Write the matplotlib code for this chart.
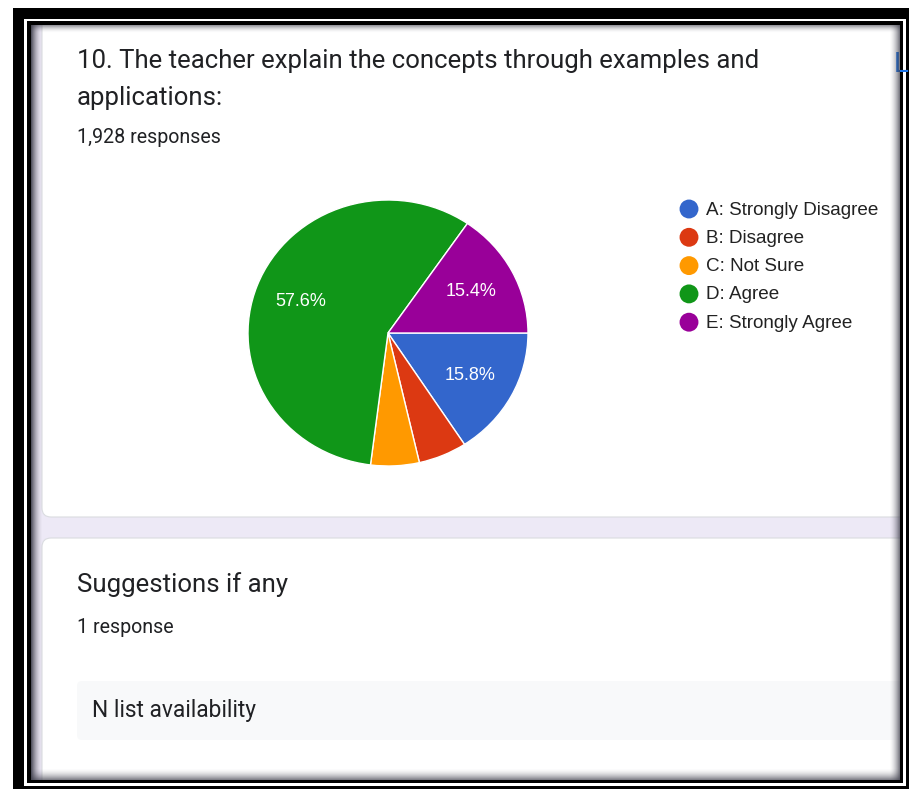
import numpy as np
import matplotlib
matplotlib.use("Agg")
import matplotlib.pyplot as plt
from matplotlib.patches import Rectangle, FancyBboxPatch

# data
labels = ["A: Strongly Disagree", "B: Disagree", "C: Not Sure", "D: Agree", "E: Strongly Agree"]
shares = [15.8, 5.6, 5.6, 57.6, 15.4]
colors = ["#3366cc", "#dc3912", "#ff9900", "#109618", "#990099"]

question = ["10. The teacher explain the concepts through examples and", "applications:"]
n_responses = "1,928 responses"
next_question = "Suggestions if any"
next_count = "1 response"
answers = ["N list availability"]

W, H = 910, 789
TXT = "#202124"
LAVENDER = "#ede9f6"

fig = plt.figure(figsize=(W / 100, H / 100), dpi=100)
bg = fig.add_axes([0, 0, 1, 1])
bg.set_xlim(0, W)
bg.set_ylim(H, 0)
bg.axis("off")


def rect(x0, y0, x1, y1, color, z):
    r = Rectangle((x0, y0), x1 - x0, y1 - y0, facecolor=color, edgecolor="none", zorder=z)
    bg.add_patch(r)
    return r


# double black frame
rect(13, 8, 909, 789, "black", 1)
rect(24, 19, 906, 786, "white", 1.1)
rect(27, 21, 903, 783, "black", 1.2)
content = rect(31, 25, 900, 780, LAVENDER, 1.3)

# cards
for y0, y1 in [(-40, 517), (538, 820)]:
    card = FancyBboxPatch((42, y0), 920, y1 - y0, boxstyle="round,pad=0,rounding_size=9",
                          facecolor="white", edgecolor="#dadce0", linewidth=0.8, zorder=2)
    bg.add_patch(card)
    card.set_clip_path(content)

# answer box
box = FancyBboxPatch((77, 681), 840, 59, boxstyle="round,pad=0,rounding_size=5",
                     facecolor="#f8f9fa", edgecolor="none", zorder=2.5)
bg.add_patch(box)
box.set_clip_path(content)


# inner shadows along the frame
def shade(x0, x1, y0, y1, direction, strength):
    n = 64
    ramp = np.linspace(1, 0, n) ** 1.8 * strength
    img = np.zeros((n, 1, 4)) if direction in ("top", "bottom") else np.zeros((1, n, 4))
    img[..., 0:3] = (0.25, 0.25, 0.3)
    if direction == "left":
        img[0, :, 3] = ramp
    elif direction == "right":
        img[0, :, 3] = ramp[::-1]
    elif direction == "top":
        img[:, 0, 3] = ramp
    else:
        img[:, 0, 3] = ramp[::-1]
    im = bg.imshow(img, extent=(x0, x1, y1, y0), aspect="auto", zorder=6, interpolation="bilinear")
    im.set_clip_path(content)


shade(31, 43, 25, 780, "left", 0.95)
shade(31, 900, 25, 33, "top", 0.6)
shade(889, 900, 25, 780, "right", 0.75)
shade(31, 900, 768, 780, "bottom", 0.7)
bg.set_xlim(0, W)
bg.set_ylim(H, 0)

# texts
bg.text(77, 68, question[0], fontfamily="Roboto", fontsize=18.5, color=TXT, va="baseline", zorder=3)
bg.text(77, 105, question[1], fontfamily="Roboto", fontsize=18.5, color=TXT, va="baseline", zorder=3)
bg.text(77, 143, n_responses, fontfamily="Roboto", fontsize=14.1, color=TXT, va="baseline", zorder=3)
bg.text(894, 72, "L", fontfamily="Roboto", fontsize=20, color="#1a73e8", va="baseline", zorder=3)

bg.text(77, 592, next_question, fontfamily="Roboto", fontsize=18.5, color=TXT, va="baseline", zorder=3)
bg.text(77, 633, next_count, fontfamily="Roboto", fontsize=14.1, color=TXT, va="baseline", zorder=3)
bg.text(92, 717, answers[0], fontfamily="Roboto", fontsize=16.4, color=TXT, va="baseline", zorder=3)

# legend
leg_y = 209 + 28.3 * np.arange(len(labels))
bg.scatter(np.full(len(labels), 689), leg_y, s=185, c=colors, edgecolors="none", zorder=3)
for y, lab in zip(leg_y, labels):
    bg.text(706, y + 1, lab, fontfamily="Liberation Sans", fontsize=13.6, color="#222222",
            va="center", zorder=3)

# pie
pie_ax = fig.add_axes([248 / W, 1 - 466 / H, 280 / W, 266 / H])
pie_ax.pie(shares, colors=colors, startangle=0, counterclock=False,
           wedgeprops=dict(edgecolor="white", linewidth=1.0),
           autopct=lambda p: f"{p:.1f}%" if p > 10 else "", pctdistance=0.67,
           textprops=dict(color="white", fontfamily="Liberation Sans", fontsize=13))
pie_ax.set_aspect("auto")
pie_ax.set_xlim(-1, 1)
pie_ax.set_ylim(-1, 1)
pie_ax.axis("off")

fig.savefig("out.png", dpi=100)
